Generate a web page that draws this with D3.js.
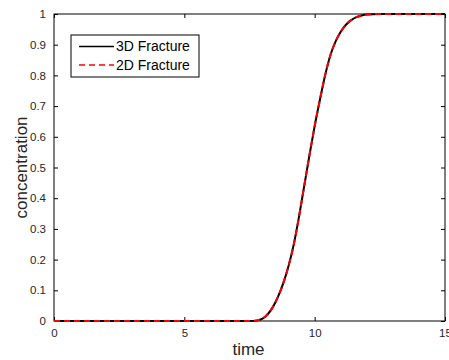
<!DOCTYPE html>
<html>
<head>
<meta charset="utf-8">
<script src="https://cdn.jsdelivr.net/npm/d3@7"></script>
<style>
  body { margin: 0; background: #fff; }
  svg { display: block; font-family: "Liberation Sans", Arial, sans-serif; }
</style>
</head>
<body>
<div id="chart"></div>
<script>
// time samples and concentration for both fracture models
const time = [0, 1, 2, 3, 4, 5, 6, 7, 7.5, 7.8, 8.0, 8.2, 8.4, 8.6, 8.8, 9.0, 9.2, 9.4, 9.6, 9.8,
  10.0, 10.2, 10.4, 10.6, 10.8, 11.0, 11.2, 11.4, 11.6, 11.8, 12.0, 12.5, 13, 14, 15];
const conc3D = [0, 0, 0, 0, 0, 0, 0, 0, 0, 0.002, 0.008, 0.022, 0.046, 0.08, 0.124, 0.18, 0.25, 0.34, 0.44, 0.54,
  0.635, 0.72, 0.80, 0.865, 0.91, 0.942, 0.965, 0.98, 0.99, 0.995, 0.998, 1, 1, 1, 1];
const conc2D = [0, 0, 0, 0, 0, 0, 0, 0, 0, 0.002, 0.008, 0.022, 0.046, 0.08, 0.124, 0.18, 0.25, 0.34, 0.44, 0.54,
  0.635, 0.72, 0.80, 0.865, 0.91, 0.942, 0.965, 0.98, 0.99, 0.995, 0.998, 1, 1, 1, 1];
const xTicks = [0, 5, 10, 15];
const yTicks = [0, 0.1, 0.2, 0.3, 0.4, 0.5, 0.6, 0.7, 0.8, 0.9, 1];
const seriesNames = ["3D Fracture", "2D Fracture"];

const W = 449, H = 360;
const margin = { t: 14, r: 4, b: 39, l: 54 };
const width = W - margin.l - margin.r;
const height = H - margin.t - margin.b;

const svg = d3.select("#chart").append("svg").attr("width", W).attr("height", H);
const g = svg.append("g").attr("transform", `translate(${margin.l},${margin.t})`);

const x = d3.scaleLinear().domain([0, 15]).range([0, width]);
const y = d3.scaleLinear().domain([0, 1]).range([height, 0]);

// axes: matlab style, ticks point inward on all four sides
const tickFmt = (d) => d3.format("~g")(d);
const styleAxis = (sel) => {
  sel.select(".domain").remove();
  sel.selectAll(".tick line").attr("stroke", "#000");
  sel.selectAll(".tick text").attr("fill", "#262626").style("font-size", "11.5px");
};

g.append("g").attr("transform", `translate(0,${height})`)
  .call(d3.axisBottom(x).tickValues(xTicks).tickFormat(tickFmt).tickSizeInner(-4).tickSizeOuter(0).tickPadding(8))
  .call(styleAxis);
g.append("g")
  .call(d3.axisTop(x).tickValues(xTicks).tickFormat("").tickSizeInner(-4).tickSizeOuter(0))
  .call(styleAxis);
g.append("g")
  .call(d3.axisLeft(y).tickValues(yTicks).tickFormat(tickFmt).tickSizeInner(-4).tickSizeOuter(0).tickPadding(8))
  .call(styleAxis);
g.append("g").attr("transform", `translate(${width},0)`)
  .call(d3.axisRight(y).tickValues(yTicks).tickFormat("").tickSizeInner(-4).tickSizeOuter(0))
  .call(styleAxis);

g.append("rect")
  .attr("width", width).attr("height", height)
  .attr("fill", "none").attr("stroke", "#000").attr("stroke-width", 1);

// curves
const line = d3.line()
  .x((d) => x(d[0]))
  .y((d) => y(d[1]))
  .curve(d3.curveMonotoneX);

g.append("path")
  .datum(time.map((t, i) => [t, conc3D[i]]))
  .attr("fill", "none").attr("stroke", "#000").attr("stroke-width", 2)
  .attr("d", line);
g.append("path")
  .datum(time.map((t, i) => [t, conc2D[i]]))
  .attr("fill", "none").attr("stroke", "#f00").attr("stroke-width", 2)
  .attr("stroke-dasharray", "6,4")
  .attr("d", line);

// axis labels
svg.append("text")
  .attr("x", margin.l + width / 2 - 1).attr("y", 355)
  .attr("text-anchor", "middle").attr("fill", "#262626")
  .style("font-size", "17px").text("time");
svg.append("text")
  .attr("transform", `translate(27,${margin.t + height / 2}) rotate(-90)`)
  .attr("text-anchor", "middle").attr("fill", "#262626")
  .style("font-size", "17px").text("concentration");

// legend
const legend = svg.append("g").attr("transform", "translate(71,35)");
legend.append("rect")
  .attr("width", 128).attr("height", 42)
  .attr("fill", "#fff").attr("stroke", "#000").attr("stroke-width", 1);
const styles = [
  { stroke: "#000", dash: null },
  { stroke: "#f00", dash: "6,4" },
];
seriesNames.forEach((name, i) => {
  const cy = 11.5 + i * 18.5;
  legend.append("line")
    .attr("x1", 8).attr("x2", 43).attr("y1", cy).attr("y2", cy)
    .attr("stroke", styles[i].stroke).attr("stroke-width", 1.5)
    .attr("stroke-dasharray", styles[i].dash);
  legend.append("text")
    .attr("x", 45).attr("y", cy).attr("dy", "0.35em")
    .attr("fill", "#000").style("font-size", "14px").text(name);
});
</script>
</body>
</html>
